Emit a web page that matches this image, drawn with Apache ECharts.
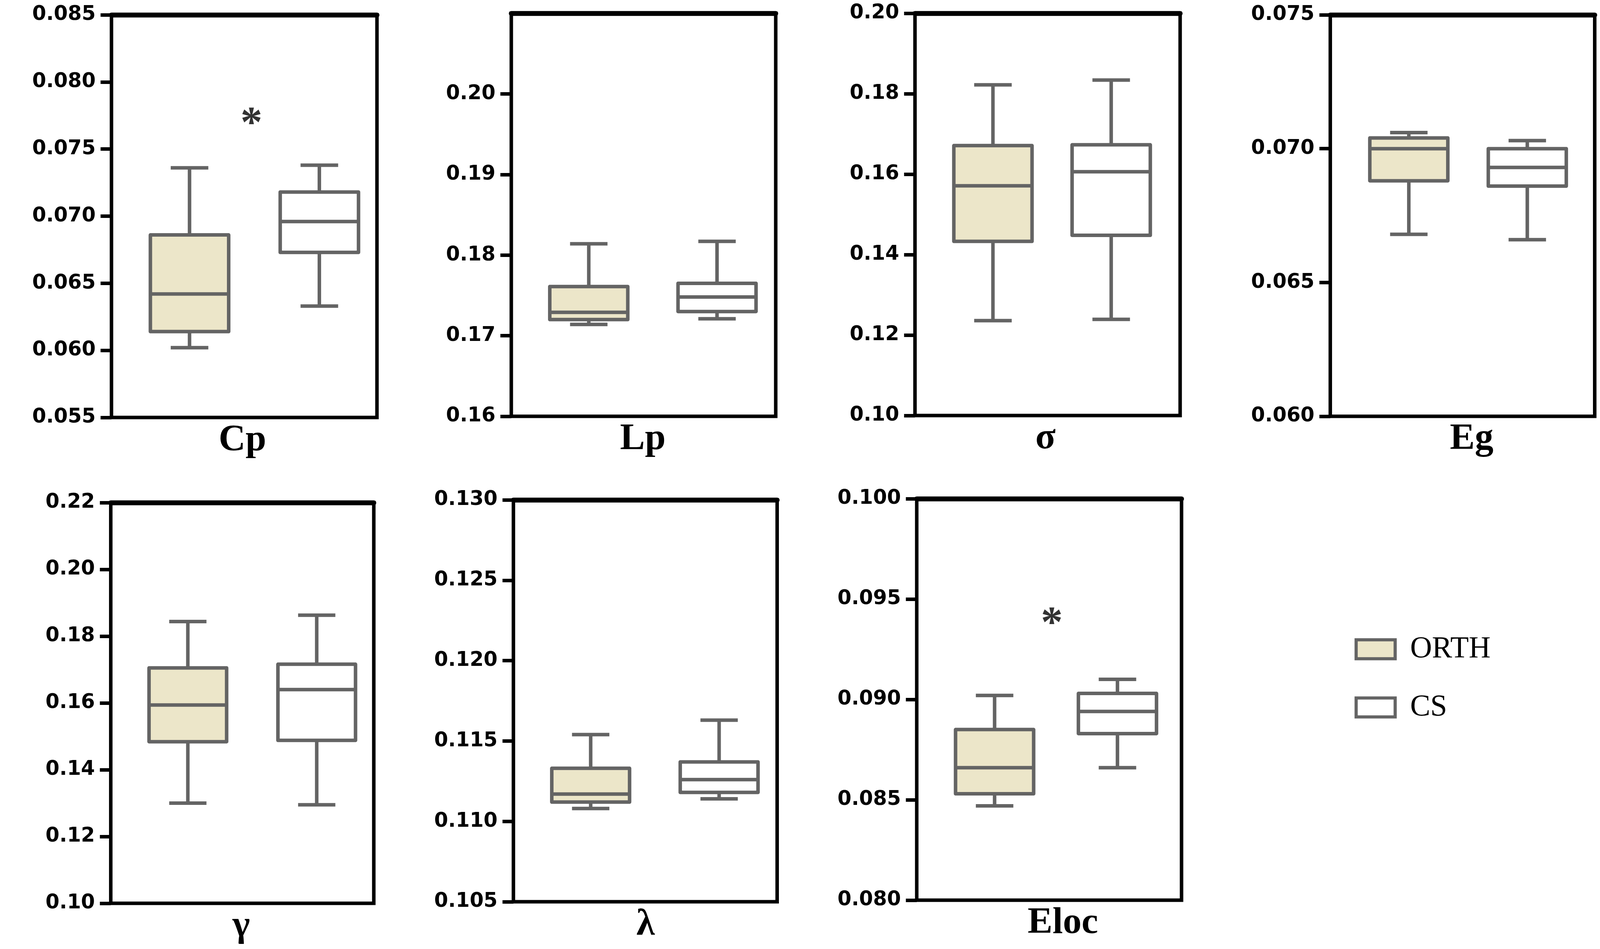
<!DOCTYPE html>
<html>
<head>
<meta charset="utf-8">
<title>ORTH vs CS</title>
<script src="https://cdn.jsdelivr.net/npm/echarts@6/dist/echarts.min.js"></script>
<style>
html, body { margin: 0; padding: 0; background: #fff; overflow: hidden; }
#main { width: 100vw; height: 100vh; }
</style>
</head>
<body>
<div id="main"></div>
<script>
// ---------------- data ----------------
var panelNames = ['Cp', 'Lp', 'σ', 'Eg', 'γ', 'λ', 'Eloc'];
var groupNames = ['ORTH', 'CS'];
// [min, Q1, median, Q3, max] per panel
var orthStats = [
	[0.0602, 0.0614, 0.0642, 0.0686, 0.0736],
	[0.1714, 0.1720, 0.1729, 0.1761, 0.1814],
	[0.1236, 0.1433, 0.1571, 0.1671, 0.1822],
	[0.0668, 0.0688, 0.0700, 0.0704, 0.0706],
	[0.1300, 0.1484, 0.1594, 0.1705, 0.1844],
	[0.1108, 0.1112, 0.1117, 0.1133, 0.1154],
	[0.0847, 0.0853, 0.0866, 0.0885, 0.0902]
];
var csStats = [
	[0.0633, 0.0673, 0.0696, 0.0718, 0.0738],
	[0.1721, 0.1730, 0.1748, 0.1765, 0.1817],
	[0.1239, 0.1448, 0.1606, 0.1673, 0.1834],
	[0.0666, 0.0686, 0.0693, 0.0700, 0.0703],
	[0.1295, 0.1488, 0.1640, 0.1716, 0.1863],
	[0.1114, 0.1118, 0.1126, 0.1137, 0.1163],
	[0.0866, 0.0883, 0.0894, 0.0903, 0.0910]
];
// y tick labels per panel
var tickLabels = [
	['0.055', '0.060', '0.065', '0.070', '0.075', '0.080', '0.085'],
	['0.16', '0.17', '0.18', '0.19', '0.20'],
	['0.10', '0.12', '0.14', '0.16', '0.18', '0.20'],
	['0.060', '0.065', '0.070', '0.075'],
	['0.10', '0.12', '0.14', '0.16', '0.18', '0.20', '0.22'],
	['0.105', '0.110', '0.115', '0.120', '0.125', '0.130'],
	['0.080', '0.085', '0.090', '0.095', '0.100']
];
var axisMax = [0.085, 0.21, 0.20, 0.075, 0.22, 0.130, 0.100];
// significance marks (*)
var starPanels = [0, 6];
var starValues = [0.0772, 0.0940];

// ---------------- layout (designed for 4550 x 2430) ----------------
// frame of each panel: [left, top, right, bottom]
var frames = [
	[317, 38, 1072, 1069],
	[1454, 34, 2206, 1066],
	[2602, 34, 3356, 1064],
	[3783, 38, 4535, 1066],
	[315, 1287, 1063, 2313],
	[1460, 1280, 2210, 2309],
	[2607, 1277, 3360, 2305]
];
// horizontal box centres inside the frame (0..1)
var boxCenters = [
	[0.294, 0.783], [0.293, 0.778], [0.294, 0.740], [0.297, 0.745],
	[0.293, 0.783], [0.293, 0.780], [0.294, 0.758]
];
var starX = [0.527, 0.51];
var titleShift = [-5, -2, -6, 26, -3, 1, 39];
var BOX_W = 0.295;
var LINE = '#646464';
var FILLS = ['#ECE6C9', '#FFFFFF'];

var dom = document.getElementById('main');
var sx = dom.clientWidth / 4550;
var sy = dom.clientHeight / 2430;
var s = Math.min(sx, sy);

function renderBox(params, api) {
	var x = api.value(0);
	var pMin = api.coord([x, api.value(1)]);
	var pQ1 = api.coord([x, api.value(2)]);
	var pMed = api.coord([x, api.value(3)]);
	var pQ3 = api.coord([x, api.value(4)]);
	var pMax = api.coord([x, api.value(5)]);
	var half = api.size([BOX_W, 0])[0] / 2;
	var cap = half * 0.48;
	var cx = pMed[0];
	var ls = { stroke: LINE, lineWidth: 10 * s };
	return {
		type: 'group',
		children: [
			{ type: 'line', shape: { x1: cx, y1: pQ3[1], x2: cx, y2: pMax[1] }, style: ls },
			{ type: 'line', shape: { x1: cx - cap, y1: pMax[1], x2: cx + cap, y2: pMax[1] }, style: ls },
			{ type: 'line', shape: { x1: cx, y1: pQ1[1], x2: cx, y2: pMin[1] }, style: ls },
			{ type: 'line', shape: { x1: cx - cap, y1: pMin[1], x2: cx + cap, y2: pMin[1] }, style: ls },
			{
				type: 'rect',
				shape: { x: cx - half, y: pQ3[1], width: half * 2, height: pQ1[1] - pQ3[1] },
				style: { fill: api.visual('color'), stroke: LINE, lineWidth: 10 * s, lineJoin: 'round' }
			},
			{ type: 'line', shape: { x1: cx - half, y1: pMed[1], x2: cx + half, y2: pMed[1] }, style: ls }
		]
	};
}

var grids = [], xAxes = [], yAxes = [], series = [];
panelNames.forEach(function(name, i) {
	var f = frames[i];
	grids.push({
		left: f[0] * sx, top: f[1] * sy, width: (f[2] - f[0]) * sx, height: (f[3] - f[1]) * sy,
		show: true, borderColor: '#000', borderWidth: 10 * s, backgroundColor: 'transparent',
		outerBoundsMode: 'none', containLabel: false
	});
	var sh = titleShift[i] * sx;
	// bottom axis carries the panel title
	xAxes.push({
		gridIndex: i, type: 'value', min: 0, max: 1, position: 'bottom',
		axisLine: { show: false }, axisTick: { show: false }, axisLabel: { show: false },
		splitLine: { show: false },
		name: name, nameLocation: 'middle', nameGap: 13 * s,
		nameTextStyle: {
			fontFamily: 'Liberation Serif', fontWeight: 'bold', fontSize: 106 * s, color: '#000',
			lineHeight: 106 * s,
			padding: sh >= 0 ? [0, 0, 0, 2 * sh] : [0, -2 * sh, 0, 0]
		}
	});
	// top axis: thicker top edge of the frame
	xAxes.push({
		gridIndex: i, type: 'value', min: 0, max: 1, position: 'top',
		axisLine: { show: true, lineStyle: { color: '#000', width: 14 * s } },
		axisTick: { show: false }, axisLabel: { show: false }, splitLine: { show: false }
	});
	var ticks = tickLabels[i].map(Number);
	var dec = tickLabels[i][0].split('.')[1].length;
	yAxes.push({
		gridIndex: i, type: 'value', min: ticks[0], max: axisMax[i],
		axisLine: { show: false },
		axisTick: { show: true, length: 31 * s, customValues: ticks, lineStyle: { color: '#000', width: 10 * s } },
		axisLabel: {
			show: true, customValues: ticks, margin: 45 * s,
			fontFamily: 'DejaVu Sans', fontWeight: 'bold', fontSize: 57 * s, color: '#000',
			formatter: function(v) { return Number(v).toFixed(dec); }
		},
		splitLine: { show: false }
	});
	[orthStats, csStats].forEach(function(stats, g) {
		series.push({
			name: groupNames[g],
			type: 'custom',
			xAxisIndex: i * 2,
			yAxisIndex: i,
			itemStyle: { color: FILLS[g] },
			encode: { x: 0, y: [1, 2, 3, 4, 5] },
			renderItem: renderBox,
			silent: true,
			data: [[boxCenters[i][g]].concat(stats[i])]
		});
	});
});

starPanels.forEach(function(p, k) {
	series.push({
		type: 'scatter',
		xAxisIndex: p * 2,
		yAxisIndex: p,
		symbolSize: 1,
		itemStyle: { color: 'rgba(0,0,0,0)' },
		silent: true,
		label: {
			show: true, position: 'inside', formatter: '*', offset: [0, 17 * s],
			fontFamily: 'Liberation Serif', fontWeight: 'bold', fontSize: 125 * s, color: '#000'
		},
		data: [[starX[k], starValues[k]]]
	});
});

var option = {
	backgroundColor: '#fff',
	animation: false,
	grid: grids,
	xAxis: xAxes,
	yAxis: yAxes,
	legend: {
		left: 3852 * sx, top: 1624 * sy, orient: 'vertical', padding: 0,
		itemWidth: 111 * s, itemHeight: 54 * s, itemGap: 80 * s, icon: 'rect',
		selectedMode: false,
		data: [
			{ name: 'ORTH', itemStyle: { color: FILLS[0], borderColor: LINE, borderWidth: 9 * s } },
			{ name: 'CS', itemStyle: { color: FILLS[1], borderColor: LINE, borderWidth: 9 * s } }
		],
		textStyle: {
			fontFamily: 'Liberation Serif', fontSize: 86 * s, color: '#000',
			lineHeight: 54 * s, padding: [0, 0, 0, 37 * s]
		}
	},
	series: series
};

var chart = echarts.init(dom);
chart.setOption(option);
</script>
</body>
</html>
